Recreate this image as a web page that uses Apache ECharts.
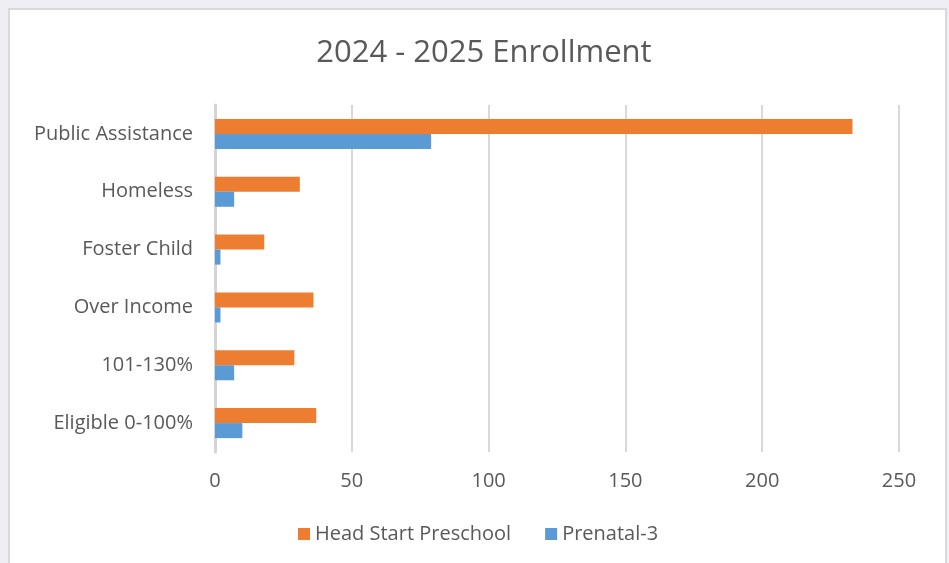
<!DOCTYPE html>
<html>
<head>
<meta charset="utf-8">
<script src="https://cdn.jsdelivr.net/npm/echarts@6/dist/echarts.min.js"></script>
<style>
  html, body { margin: 0; padding: 0; background: #eeeef4; }
  #panel { position: absolute; left: 8px; top: 8px; width: 935px; height: 570px;
           border: 2px solid #d9d9d9; background: #ffffff; }
  #chart { position: absolute; left: 0; top: 0; width: 949px; height: 563px; }
</style>
</head>
<body>
<div id="panel"></div>
<div id="chart"></div>
<script>
// bottom to top, as the value axis draws them
const categories = ['Eligible 0-100%', '101-130%', 'Over Income', 'Foster Child', 'Homeless', 'Public Assistance'];
const headStart = [37, 29, 36, 18, 31, 233];
const prenatal = [10, 7, 2, 2, 7, 79];
const seriesNames = ['Head Start Preschool', 'Prenatal-3'];

const chart = echarts.init(document.getElementById('chart'));
const font = '"Open Sans", "Noto Sans", sans-serif';

chart.setOption({
    animation: false,
    title: {
        text: '2024 - 2025 Enrollment',
        left: 479,
        textAlign: 'center',
        top: 33,
        textStyle: { fontFamily: font, fontSize: 31, fontWeight: 'normal', color: '#595959' }
    },
    legend: {
        data: seriesNames,
        left: 293,
        top: 519,
        itemWidth: 12,
        itemHeight: 12,
        itemGap: 34,
        icon: 'rect',
        textStyle: { fontFamily: font, fontSize: 20, color: '#595959' }
    },
    grid: { left: 215, right: 50, top: 105, bottom: 111 },
    xAxis: {
        type: 'value',
        min: 0,
        max: 250,
        interval: 50,
        axisLine: { show: false },
        axisTick: { show: false },
        axisLabel: { fontFamily: font, fontSize: 20, color: '#595959', margin: 19 },
        splitLine: { lineStyle: { color: '#d9d9d9', width: 2 } }
    },
    yAxis: {
        type: 'category',
        data: categories,
        axisLine: { show: true, lineStyle: { color: '#d4d4d4', width: 3 } },
        axisTick: { show: false },
        axisLabel: { fontFamily: font, fontSize: 20, color: '#595959', margin: 22 }
    },
    series: [
        {
            name: seriesNames[0],
            type: 'bar',
            data: headStart,
            barGap: 0,
            barCategoryGap: '48%',
            itemStyle: { color: '#ED7D31' }
        },
        {
            name: seriesNames[1],
            type: 'bar',
            data: prenatal,
            barGap: 0,
            barCategoryGap: '48%',
            itemStyle: { color: '#5B9BD5' }
        }
    ]
});
</script>
</body>
</html>
